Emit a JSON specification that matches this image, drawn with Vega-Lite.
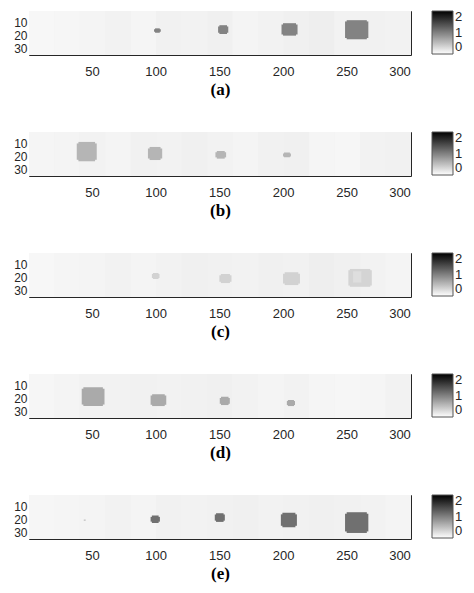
{
  "$schema": "https://vega.github.io/schema/vega-lite/v6.json",
  "padding": {"left": 13, "top": 10, "right": 8, "bottom": 5},
  "background": "white",
  "config": {
    "font": "Liberation Sans",
    "view": {"stroke": "#262626", "strokeWidth": 1},
    "axis": {"domain": false, "grid": false, "tickColor": "#262626", "tickSize": -4, "labelFontSize": 13, "labelColor": "#262626", "labelFont": "Liberation Sans", "labelOverlap": false, "titleFont": "Liberation Serif", "titleFontSize": 17, "titleFontWeight": "bold", "titleColor": "#000000", "titlePadding": 3},
    "axisLeft": {"labelFontSize": 12},
    "legend": {"gradientLength": 43, "gradientThickness": 21, "gradientStrokeColor": "#555555", "gradientStrokeWidth": 1, "labelFontSize": 13, "labelColor": "#262626", "labelBaseline": "middle", "labelAlign": "left", "labelLimit": 40, "offset": 20, "padding": 0, "labelOffset": 4, "labelOverlap": false},
    "concat": {"spacing": 33}
  },
  "data": {"values": [
    {"p":"a","k":"bg","x":0.5,"x2":300.5,"y":0.5,"y2":35.5,"v":0.1},
    {"p":"a","k":"bg","x":0.5,"x2":20.5,"y":0.5,"y2":35.5,"v":0.06},
    {"p":"a","k":"bg","x":20.5,"x2":40.5,"y":0.5,"y2":35.5,"v":0.07},
    {"p":"a","k":"bg","x":40.5,"x2":60.5,"y":0.5,"y2":35.5,"v":0.09},
    {"p":"a","k":"bg","x":60.5,"x2":80.5,"y":0.5,"y2":35.5,"v":0.1},
    {"p":"a","k":"bg","x":80.5,"x2":100.5,"y":0.5,"y2":35.5,"v":0.08},
    {"p":"a","k":"bg","x":100.5,"x2":120.5,"y":0.5,"y2":35.5,"v":0.11},
    {"p":"a","k":"bg","x":120.5,"x2":140.5,"y":0.5,"y2":35.5,"v":0.1},
    {"p":"a","k":"bg","x":140.5,"x2":160.5,"y":0.5,"y2":35.5,"v":0.12},
    {"p":"a","k":"bg","x":160.5,"x2":180.5,"y":0.5,"y2":35.5,"v":0.09},
    {"p":"a","k":"bg","x":180.5,"x2":200.5,"y":0.5,"y2":35.5,"v":0.1},
    {"p":"a","k":"bg","x":200.5,"x2":220.5,"y":0.5,"y2":35.5,"v":0.12},
    {"p":"a","k":"bg","x":220.5,"x2":240.5,"y":0.5,"y2":35.5,"v":0.13},
    {"p":"a","k":"bg","x":240.5,"x2":260.5,"y":0.5,"y2":35.5,"v":0.1},
    {"p":"a","k":"bg","x":260.5,"x2":280.5,"y":0.5,"y2":35.5,"v":0.11},
    {"p":"a","k":"bg","x":280.5,"x2":300.5,"y":0.5,"y2":35.5,"v":0.1},
    {"p":"a","k":"blob","x":98.7,"x2":104,"y":15,"y2":17.1,"v":0.97},
    {"p":"a","k":"blob","x":99.5,"x2":103.2,"y":14.3,"y2":17.8,"v":0.97},
    {"p":"a","k":"blob","x":149,"x2":157,"y":12.8,"y2":17.8,"v":0.97},
    {"p":"a","k":"blob","x":150,"x2":156,"y":11.8,"y2":18.8,"v":0.97},
    {"p":"a","k":"blob","x":198.8,"x2":211.4,"y":11.2,"y2":19.1,"v":0.97},
    {"p":"a","k":"blob","x":200,"x2":210.2,"y":10.2,"y2":20.1,"v":0.97},
    {"p":"a","k":"blob","x":248.7,"x2":267,"y":8.8,"y2":22,"v":0.97},
    {"p":"a","k":"blob","x":250,"x2":265.8,"y":7.8,"y2":23,"v":0.97},

    {"p":"b","k":"bg","x":0.5,"x2":300.5,"y":0.5,"y2":35.5,"v":0.1},
    {"p":"b","k":"bg","x":0.5,"x2":20.5,"y":0.5,"y2":35.5,"v":0.08},
    {"p":"b","k":"bg","x":20.5,"x2":40.5,"y":0.5,"y2":35.5,"v":0.09},
    {"p":"b","k":"bg","x":40.5,"x2":60.5,"y":0.5,"y2":35.5,"v":0.1},
    {"p":"b","k":"bg","x":60.5,"x2":80.5,"y":0.5,"y2":35.5,"v":0.09},
    {"p":"b","k":"bg","x":80.5,"x2":100.5,"y":0.5,"y2":35.5,"v":0.11},
    {"p":"b","k":"bg","x":100.5,"x2":120.5,"y":0.5,"y2":35.5,"v":0.1},
    {"p":"b","k":"bg","x":120.5,"x2":140.5,"y":0.5,"y2":35.5,"v":0.12},
    {"p":"b","k":"bg","x":140.5,"x2":160.5,"y":0.5,"y2":35.5,"v":0.1},
    {"p":"b","k":"bg","x":160.5,"x2":180.5,"y":0.5,"y2":35.5,"v":0.09},
    {"p":"b","k":"bg","x":180.5,"x2":200.5,"y":0.5,"y2":35.5,"v":0.11},
    {"p":"b","k":"bg","x":200.5,"x2":220.5,"y":0.5,"y2":35.5,"v":0.12},
    {"p":"b","k":"bg","x":220.5,"x2":240.5,"y":0.5,"y2":35.5,"v":0.08},
    {"p":"b","k":"bg","x":240.5,"x2":260.5,"y":0.5,"y2":35.5,"v":0.07},
    {"p":"b","k":"bg","x":260.5,"x2":280.5,"y":0.5,"y2":35.5,"v":0.1},
    {"p":"b","k":"bg","x":280.5,"x2":300.5,"y":0.5,"y2":35.5,"v":0.11},
    {"p":"b","k":"blob","x":38,"x2":53.7,"y":9.6,"y2":22.6,"v":0.58},
    {"p":"b","k":"blob","x":39.3,"x2":52.4,"y":8.4,"y2":23.8,"v":0.58},
    {"p":"b","k":"blob","x":93.9,"x2":105.1,"y":13.6,"y2":21.6,"v":0.58},
    {"p":"b","k":"blob","x":95.2,"x2":103.8,"y":12.4,"y2":22.8,"v":0.58},
    {"p":"b","k":"blob","x":146.9,"x2":155.3,"y":16.6,"y2":20.7,"v":0.58},
    {"p":"b","k":"blob","x":148,"x2":154.2,"y":15.6,"y2":21.7,"v":0.58},
    {"p":"b","k":"blob","x":200,"x2":206.2,"y":17.6,"y2":19.9,"v":0.58},
    {"p":"b","k":"blob","x":200.8,"x2":205.4,"y":16.9,"y2":20.6,"v":0.58},

    {"p":"c","k":"bg","x":0.5,"x2":300.5,"y":0.5,"y2":35.5,"v":0.1},
    {"p":"c","k":"bg","x":0.5,"x2":20.5,"y":0.5,"y2":35.5,"v":0.06},
    {"p":"c","k":"bg","x":20.5,"x2":40.5,"y":0.5,"y2":35.5,"v":0.08},
    {"p":"c","k":"bg","x":40.5,"x2":60.5,"y":0.5,"y2":35.5,"v":0.09},
    {"p":"c","k":"bg","x":60.5,"x2":80.5,"y":0.5,"y2":35.5,"v":0.1},
    {"p":"c","k":"bg","x":80.5,"x2":100.5,"y":0.5,"y2":35.5,"v":0.09},
    {"p":"c","k":"bg","x":100.5,"x2":120.5,"y":0.5,"y2":35.5,"v":0.1},
    {"p":"c","k":"bg","x":120.5,"x2":140.5,"y":0.5,"y2":35.5,"v":0.12},
    {"p":"c","k":"bg","x":140.5,"x2":160.5,"y":0.5,"y2":35.5,"v":0.11},
    {"p":"c","k":"bg","x":160.5,"x2":180.5,"y":0.5,"y2":35.5,"v":0.1},
    {"p":"c","k":"bg","x":180.5,"x2":200.5,"y":0.5,"y2":35.5,"v":0.12},
    {"p":"c","k":"bg","x":200.5,"x2":220.5,"y":0.5,"y2":35.5,"v":0.11},
    {"p":"c","k":"bg","x":220.5,"x2":240.5,"y":0.5,"y2":35.5,"v":0.13},
    {"p":"c","k":"bg","x":240.5,"x2":260.5,"y":0.5,"y2":35.5,"v":0.12},
    {"p":"c","k":"bg","x":260.5,"x2":280.5,"y":0.5,"y2":35.5,"v":0.1},
    {"p":"c","k":"bg","x":280.5,"x2":300.5,"y":0.5,"y2":35.5,"v":0.09},
    {"p":"c","k":"blob","x":97,"x2":103,"y":17.2,"y2":20.4,"v":0.35},
    {"p":"c","k":"blob","x":97.8,"x2":102.2,"y":16.4,"y2":21.2,"v":0.35},
    {"p":"c","k":"blob","x":150,"x2":159.5,"y":18.2,"y2":23.4,"v":0.35},
    {"p":"c","k":"blob","x":151.2,"x2":158.3,"y":17.2,"y2":24.4,"v":0.35},
    {"p":"c","k":"blob","x":200,"x2":213.3,"y":17,"y2":24.8,"v":0.35},
    {"p":"c","k":"blob","x":201.3,"x2":212,"y":15.8,"y2":26,"v":0.35},
    {"p":"c","k":"blob","x":251.3,"x2":269.7,"y":14.2,"y2":26.4,"v":0.34},
    {"p":"c","k":"blob","x":252.5,"x2":268.5,"y":13.2,"y2":27.4,"v":0.34},
    {"p":"c","k":"blob","x":255,"x2":261.5,"y":15,"y2":24,"v":0.26},

    {"p":"d","k":"bg","x":0.5,"x2":300.5,"y":0.5,"y2":35.5,"v":0.1},
    {"p":"d","k":"bg","x":0.5,"x2":20.5,"y":0.5,"y2":35.5,"v":0.07},
    {"p":"d","k":"bg","x":20.5,"x2":40.5,"y":0.5,"y2":35.5,"v":0.09},
    {"p":"d","k":"bg","x":40.5,"x2":60.5,"y":0.5,"y2":35.5,"v":0.1},
    {"p":"d","k":"bg","x":60.5,"x2":80.5,"y":0.5,"y2":35.5,"v":0.1},
    {"p":"d","k":"bg","x":80.5,"x2":100.5,"y":0.5,"y2":35.5,"v":0.11},
    {"p":"d","k":"bg","x":100.5,"x2":120.5,"y":0.5,"y2":35.5,"v":0.1},
    {"p":"d","k":"bg","x":120.5,"x2":140.5,"y":0.5,"y2":35.5,"v":0.11},
    {"p":"d","k":"bg","x":140.5,"x2":160.5,"y":0.5,"y2":35.5,"v":0.12},
    {"p":"d","k":"bg","x":160.5,"x2":180.5,"y":0.5,"y2":35.5,"v":0.1},
    {"p":"d","k":"bg","x":180.5,"x2":200.5,"y":0.5,"y2":35.5,"v":0.09},
    {"p":"d","k":"bg","x":200.5,"x2":220.5,"y":0.5,"y2":35.5,"v":0.1},
    {"p":"d","k":"bg","x":220.5,"x2":240.5,"y":0.5,"y2":35.5,"v":0.08},
    {"p":"d","k":"bg","x":240.5,"x2":260.5,"y":0.5,"y2":35.5,"v":0.07},
    {"p":"d","k":"bg","x":260.5,"x2":280.5,"y":0.5,"y2":35.5,"v":0.08},
    {"p":"d","k":"bg","x":280.5,"x2":300.5,"y":0.5,"y2":35.5,"v":0.1},
    {"p":"d","k":"blob","x":41.9,"x2":59.8,"y":12.2,"y2":24.8,"v":0.67},
    {"p":"d","k":"blob","x":43.2,"x2":58.5,"y":11,"y2":26,"v":0.67},
    {"p":"d","k":"blob","x":96,"x2":108.3,"y":17.6,"y2":25,"v":0.67},
    {"p":"d","k":"blob","x":97.2,"x2":107.1,"y":16.6,"y2":26,"v":0.67},
    {"p":"d","k":"blob","x":150.3,"x2":158.2,"y":19.6,"y2":24.2,"v":0.67},
    {"p":"d","k":"blob","x":151.3,"x2":157.2,"y":18.6,"y2":25.2,"v":0.67},
    {"p":"d","k":"blob","x":203,"x2":209.4,"y":22,"y2":25.2,"v":0.67},
    {"p":"d","k":"blob","x":203.8,"x2":208.6,"y":21.2,"y2":26,"v":0.67},

    {"p":"e","k":"bg","x":0.5,"x2":300.5,"y":0.5,"y2":35.5,"v":0.1},
    {"p":"e","k":"bg","x":0.5,"x2":20.5,"y":0.5,"y2":35.5,"v":0.07},
    {"p":"e","k":"bg","x":20.5,"x2":40.5,"y":0.5,"y2":35.5,"v":0.08},
    {"p":"e","k":"bg","x":40.5,"x2":60.5,"y":0.5,"y2":35.5,"v":0.09},
    {"p":"e","k":"bg","x":60.5,"x2":80.5,"y":0.5,"y2":35.5,"v":0.1},
    {"p":"e","k":"bg","x":80.5,"x2":100.5,"y":0.5,"y2":35.5,"v":0.09},
    {"p":"e","k":"bg","x":100.5,"x2":120.5,"y":0.5,"y2":35.5,"v":0.11},
    {"p":"e","k":"bg","x":120.5,"x2":140.5,"y":0.5,"y2":35.5,"v":0.1},
    {"p":"e","k":"bg","x":140.5,"x2":160.5,"y":0.5,"y2":35.5,"v":0.11},
    {"p":"e","k":"bg","x":160.5,"x2":180.5,"y":0.5,"y2":35.5,"v":0.12},
    {"p":"e","k":"bg","x":180.5,"x2":200.5,"y":0.5,"y2":35.5,"v":0.1},
    {"p":"e","k":"bg","x":200.5,"x2":220.5,"y":0.5,"y2":35.5,"v":0.11},
    {"p":"e","k":"bg","x":220.5,"x2":240.5,"y":0.5,"y2":35.5,"v":0.12},
    {"p":"e","k":"bg","x":240.5,"x2":260.5,"y":0.5,"y2":35.5,"v":0.11},
    {"p":"e","k":"bg","x":260.5,"x2":280.5,"y":0.5,"y2":35.5,"v":0.1},
    {"p":"e","k":"bg","x":280.5,"x2":300.5,"y":0.5,"y2":35.5,"v":0.09},
    {"p":"e","k":"blob","x":43.5,"x2":45,"y":20,"y2":21,"v":0.5},
    {"p":"e","k":"blob","x":96,"x2":103.3,"y":17.9,"y2":21.7,"v":1.12},
    {"p":"e","k":"blob","x":97,"x2":102.3,"y":16.9,"y2":22.7,"v":1.12},
    {"p":"e","k":"blob","x":146.4,"x2":154.3,"y":16,"y2":20.9,"v":1.12},
    {"p":"e","k":"blob","x":147.4,"x2":153.3,"y":15,"y2":21.9,"v":1.12},
    {"p":"e","k":"blob","x":198.3,"x2":210.9,"y":15.9,"y2":25,"v":1.12},
    {"p":"e","k":"blob","x":199.5,"x2":209.7,"y":14.7,"y2":26.2,"v":1.12},
    {"p":"e","k":"blob","x":248.7,"x2":267,"y":15.4,"y2":29.5,"v":1.12},
    {"p":"e","k":"blob","x":250,"x2":265.8,"y":14.2,"y2":30.7,"v":1.12}
  ]},
  "resolve": {"scale": {"color": "independent"}, "legend": {"color": "independent"}},
  "vconcat": [
    {"width": 382, "height": 44, "transform": [{"filter": "datum.p == 'a'"}],
     "layer": [
       {"transform": [{"filter": "datum.k == 'bg'"}], "mark": {"type": "rect"},
        "encoding": {
          "x": {"field": "x", "type": "quantitative", "scale": {"domain": [0.5, 300.5], "nice": false, "zero": false}, "axis": {"values": [50,100,150,200,250,300], "title": "(a)", "labelPadding": 14}},
          "x2": {"field": "x2"},
          "y": {"field": "y", "type": "quantitative", "scale": {"domain": [0.5, 35.5], "reverse": true, "nice": false, "zero": false}, "axis": {"values": [10,20,30], "title": null, "labelPadding": 6}},
          "y2": {"field": "y2"},
          "color": {"field": "v", "type": "quantitative", "scale": {"domain": [0, 2], "range": ["#ffffff", "#000000"], "interpolate": "rgb"}, "legend": {"title": null, "values": [0, 1, 2], "direction": "vertical"}}
        }},
       {"transform": [{"filter": "datum.k == 'blob'"}], "mark": {"type": "rect"},
        "encoding": {
          "x": {"field": "x", "type": "quantitative", "axis": {"orient": "top", "values": [50,100,150,200,250,300], "labels": false, "title": null}},
          "x2": {"field": "x2"},
          "y": {"field": "y", "type": "quantitative", "axis": {"orient": "right", "values": [10,20,30], "labels": false, "title": null}},
          "y2": {"field": "y2"},
          "color": {"field": "v", "type": "quantitative"}
        }}
     ],
     "resolve": {"axis": {"x": "independent", "y": "independent"}}
    },
    {"width": 382, "height": 44, "transform": [{"filter": "datum.p == 'b'"}],
     "layer": [
       {"transform": [{"filter": "datum.k == 'bg'"}], "mark": {"type": "rect"},
        "encoding": {
          "x": {"field": "x", "type": "quantitative", "scale": {"domain": [0.5, 300.5], "nice": false, "zero": false}, "axis": {"values": [50,100,150,200,250,300], "title": "(b)", "labelPadding": 14}},
          "x2": {"field": "x2"},
          "y": {"field": "y", "type": "quantitative", "scale": {"domain": [0.5, 35.5], "reverse": true, "nice": false, "zero": false}, "axis": {"values": [10,20,30], "title": null, "labelPadding": 6}},
          "y2": {"field": "y2"},
          "color": {"field": "v", "type": "quantitative", "scale": {"domain": [0, 2], "range": ["#ffffff", "#000000"], "interpolate": "rgb"}, "legend": {"title": null, "values": [0, 1, 2], "direction": "vertical"}}
        }},
       {"transform": [{"filter": "datum.k == 'blob'"}], "mark": {"type": "rect"},
        "encoding": {
          "x": {"field": "x", "type": "quantitative", "axis": {"orient": "top", "values": [50,100,150,200,250,300], "labels": false, "title": null}},
          "x2": {"field": "x2"},
          "y": {"field": "y", "type": "quantitative", "axis": {"orient": "right", "values": [10,20,30], "labels": false, "title": null}},
          "y2": {"field": "y2"},
          "color": {"field": "v", "type": "quantitative"}
        }}
     ],
     "resolve": {"axis": {"x": "independent", "y": "independent"}}
    },
    {"width": 382, "height": 44, "transform": [{"filter": "datum.p == 'c'"}],
     "layer": [
       {"transform": [{"filter": "datum.k == 'bg'"}], "mark": {"type": "rect"},
        "encoding": {
          "x": {"field": "x", "type": "quantitative", "scale": {"domain": [0.5, 300.5], "nice": false, "zero": false}, "axis": {"values": [50,100,150,200,250,300], "title": "(c)", "labelPadding": 14}},
          "x2": {"field": "x2"},
          "y": {"field": "y", "type": "quantitative", "scale": {"domain": [0.5, 35.5], "reverse": true, "nice": false, "zero": false}, "axis": {"values": [10,20,30], "title": null, "labelPadding": 6}},
          "y2": {"field": "y2"},
          "color": {"field": "v", "type": "quantitative", "scale": {"domain": [0, 2], "range": ["#ffffff", "#000000"], "interpolate": "rgb"}, "legend": {"title": null, "values": [0, 1, 2], "direction": "vertical"}}
        }},
       {"transform": [{"filter": "datum.k == 'blob'"}], "mark": {"type": "rect"},
        "encoding": {
          "x": {"field": "x", "type": "quantitative", "axis": {"orient": "top", "values": [50,100,150,200,250,300], "labels": false, "title": null}},
          "x2": {"field": "x2"},
          "y": {"field": "y", "type": "quantitative", "axis": {"orient": "right", "values": [10,20,30], "labels": false, "title": null}},
          "y2": {"field": "y2"},
          "color": {"field": "v", "type": "quantitative"}
        }}
     ],
     "resolve": {"axis": {"x": "independent", "y": "independent"}}
    },
    {"width": 382, "height": 44, "transform": [{"filter": "datum.p == 'd'"}],
     "layer": [
       {"transform": [{"filter": "datum.k == 'bg'"}], "mark": {"type": "rect"},
        "encoding": {
          "x": {"field": "x", "type": "quantitative", "scale": {"domain": [0.5, 300.5], "nice": false, "zero": false}, "axis": {"values": [50,100,150,200,250,300], "title": "(d)", "labelPadding": 14}},
          "x2": {"field": "x2"},
          "y": {"field": "y", "type": "quantitative", "scale": {"domain": [0.5, 35.5], "reverse": true, "nice": false, "zero": false}, "axis": {"values": [10,20,30], "title": null, "labelPadding": 6}},
          "y2": {"field": "y2"},
          "color": {"field": "v", "type": "quantitative", "scale": {"domain": [0, 2], "range": ["#ffffff", "#000000"], "interpolate": "rgb"}, "legend": {"title": null, "values": [0, 1, 2], "direction": "vertical"}}
        }},
       {"transform": [{"filter": "datum.k == 'blob'"}], "mark": {"type": "rect"},
        "encoding": {
          "x": {"field": "x", "type": "quantitative", "axis": {"orient": "top", "values": [50,100,150,200,250,300], "labels": false, "title": null}},
          "x2": {"field": "x2"},
          "y": {"field": "y", "type": "quantitative", "axis": {"orient": "right", "values": [10,20,30], "labels": false, "title": null}},
          "y2": {"field": "y2"},
          "color": {"field": "v", "type": "quantitative"}
        }}
     ],
     "resolve": {"axis": {"x": "independent", "y": "independent"}}
    },
    {"width": 382, "height": 44, "transform": [{"filter": "datum.p == 'e'"}],
     "layer": [
       {"transform": [{"filter": "datum.k == 'bg'"}], "mark": {"type": "rect"},
        "encoding": {
          "x": {"field": "x", "type": "quantitative", "scale": {"domain": [0.5, 300.5], "nice": false, "zero": false}, "axis": {"values": [50,100,150,200,250,300], "title": "(e)", "labelPadding": 14}},
          "x2": {"field": "x2"},
          "y": {"field": "y", "type": "quantitative", "scale": {"domain": [0.5, 35.5], "reverse": true, "nice": false, "zero": false}, "axis": {"values": [10,20,30], "title": null, "labelPadding": 6}},
          "y2": {"field": "y2"},
          "color": {"field": "v", "type": "quantitative", "scale": {"domain": [0, 2], "range": ["#ffffff", "#000000"], "interpolate": "rgb"}, "legend": {"title": null, "values": [0, 1, 2], "direction": "vertical"}}
        }},
       {"transform": [{"filter": "datum.k == 'blob'"}], "mark": {"type": "rect"},
        "encoding": {
          "x": {"field": "x", "type": "quantitative", "axis": {"orient": "top", "values": [50,100,150,200,250,300], "labels": false, "title": null}},
          "x2": {"field": "x2"},
          "y": {"field": "y", "type": "quantitative", "axis": {"orient": "right", "values": [10,20,30], "labels": false, "title": null}},
          "y2": {"field": "y2"},
          "color": {"field": "v", "type": "quantitative"}
        }}
     ],
     "resolve": {"axis": {"x": "independent", "y": "independent"}}
    }
  ]
}
